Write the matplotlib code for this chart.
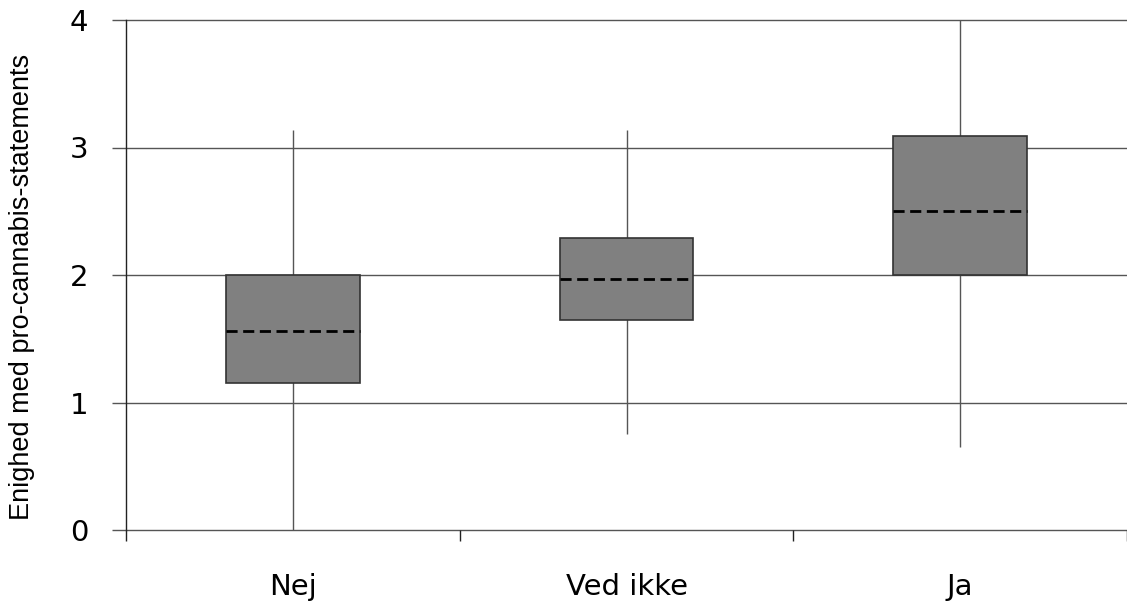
import matplotlib
matplotlib.use("Agg")
import matplotlib.pyplot as plt
from matplotlib.patches import Rectangle

categories = ["Nej", "Ved ikke", "Ja"]
whisker_low = [0.0, 0.75, 0.65]
q1 = [1.15, 1.65, 2.0]
median = [1.56, 1.97, 2.5]
q3 = [2.0, 2.29, 3.09]
whisker_high = [3.14, 3.14, 4.0]
y_ticks = [0, 1, 2, 3, 4]
ylabel = "Enighed med pro-cannabis-statements"

fig = plt.figure(figsize=(11.27, 6.03), dpi=100)
ax = fig.add_axes([126 / 1127, 1 - 530 / 603, 1 - 126 / 1127, (530 - 20) / 603])

ax.set_xlim(0.5, 3.5)
ax.set_ylim(0, 4)

for y in y_ticks:
    ax.axhline(y, color="#555555", lw=1.0, zorder=1, clip_on=False)

box_w = 0.40
for i, cat in enumerate(categories):
    x = i + 1
    ax.vlines(x, whisker_low[i], whisker_high[i], color="#555555", lw=1.0, zorder=2)
    ax.add_patch(Rectangle((x - box_w / 2, q1[i]), box_w, q3[i] - q1[i],
                           facecolor="#808080", edgecolor="#333333", lw=1.2, zorder=3))
    ax.hlines(median[i], x - box_w / 2, x + box_w / 2, color="black", lw=2.0,
              linestyles=(0, (4, 2)), zorder=4)

for s in ["top", "right", "bottom"]:
    ax.spines[s].set_visible(False)
ax.spines["left"].set_color("#222222")
ax.spines["left"].set_linewidth(1.0)

ax.set_yticks(y_ticks)
ax.set_yticklabels([str(t) for t in y_ticks], fontfamily="DejaVu Sans", fontsize=21)
ax.tick_params(axis="y", length=10, width=1.0, color="#555555", pad=17)

ax.set_xticks([1, 2, 3])
ax.set_xticklabels(categories, fontfamily="DejaVu Sans", fontsize=21)
ax.set_xticks([0.5, 1.5, 2.5, 3.5], minor=True)
ax.tick_params(axis="x", which="major", length=0, pad=31)
ax.tick_params(axis="x", which="minor", length=8, width=1.0, color="#222222", direction="out")

ax.set_ylabel(ylabel, fontfamily="Liberation Sans", fontsize=19.5)
ax.yaxis.set_label_coords(-0.091, 0.476)

fig.savefig("out.png", dpi=100)
